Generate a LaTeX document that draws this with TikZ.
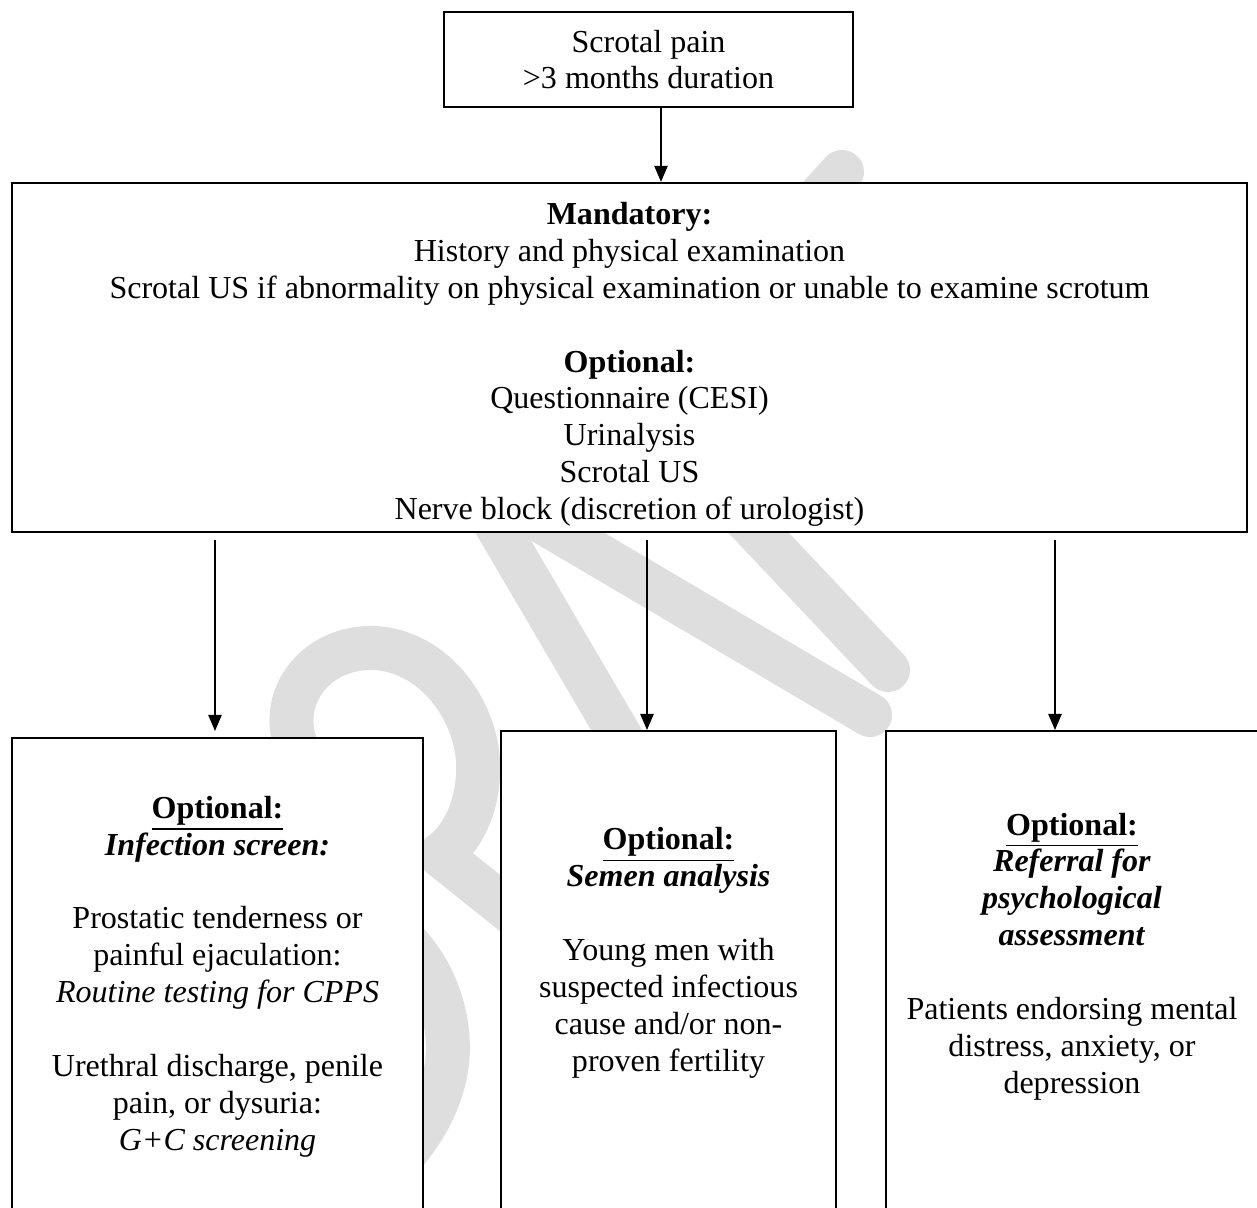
\documentclass[tikz,border=0pt]{standalone}
\usepackage{fontspec}
\setmainfont{Liberation Serif}
\usetikzlibrary{arrows.meta, positioning}
\newlength\px
\setlength\px{0.3746pt}
\definecolor{wmgray}{RGB}{222,222,222}

\begin{document}
\begin{tikzpicture}[
  x=0.3746pt, y=-0.3746pt,
  >={Triangle[length=6pt,width=5pt]},
  box/.style={rectangle, draw, fill=white, line width=0.9pt, inner sep=0pt, font=\fontsize{12}{13.8}\selectfont, align=center},
  txt/.style={inner sep=0pt, font=\fontsize{12}{13.8}\selectfont, align=center, anchor=base},
  arr/.style={->, line width=0.5pt},
  wm/.style={draw=wmgray, line width=44\px, line cap=round, line join=round},
]
  \useasboundingbox (0,0) rectangle (1257,1207);
  \clip (0,0) rectangle (1257,1207);

  % watermark behind the boxes
  \draw[wm] (842,172) -- (760,262);
  \draw[wm] (470,480) -- (640,770);
  \draw[wm] (480,485) -- (870,715);
  \draw[wm] (690,460) -- (888,670);
  \draw[wm] (330,790) .. controls (255,730) and (300,645) .. (375,648)
    .. controls (440,652) and (482,720) .. (478,775)
    .. controls (476,815) and (458,842) .. (440,855) -- (540,935);
  \draw[wm] (380,920) .. controls (440,960) and (455,1030) .. (445,1075)
    .. controls (435,1120) and (410,1150) .. (380,1180);

  \node[box, minimum width=409\px, minimum height=95\px] (pain) at (648.5,59.5)
    {Scrotal pain\\ >3 months duration};
  \node[box, minimum width=1235\px, minimum height=349\px] (workup) at (629.5,357.5)
    {\rule{0pt}{13.5pt}\textbf{Mandatory:}\\ History and physical examination\\
     Scrotal US if abnormality on physical examination or unable to examine scrotum\\[13.8pt]
     \textbf{Optional:}\\ Questionnaire (CESI)\\ Urinalysis\\ Scrotal US\\
     Nerve block (discretion of urologist)};

  \node[box, minimum width=411\px, minimum height=600\px, anchor=north] (infect) at (217.5,737) {};
  \node[box, minimum width=335\px, minimum height=600\px, anchor=north] (semen) at (668.5,730) {};
  \node[box, minimum width=376\px, minimum height=600\px, anchor=north] (psych) at (1074,730) {};

  % base = last line
  \node[txt] (infectTxt) at (217.5,1150)
    {\underline{\textbf{Optional:}}\\ \textbf{\textit{Infection screen:}}\\[13.8pt]
     Prostatic tenderness or\\ painful ejaculation:\\ \textit{Routine testing for CPPS}\\[13.8pt]
     Urethral discharge, penile\\ pain, or dysuria:\\ \textit{G+C screening}};
  \node[txt] (semenTxt) at (668.5,1071)
    {\underline{\textbf{Optional:}}\\ \textbf{\textit{Semen analysis}}\\[13.8pt]
     Young men with\\ suspected infectious\\ cause and/or non-\\ proven fertility};
  \node[txt] (psychTxt) at (1072,1093)
    {\underline{\textbf{Optional:}}\\ \textbf{\textit{Referral for}}\\ \textbf{\textit{psychological}}\\
     \textbf{\textit{assessment}}\\[13.8pt]
     Patients endorsing mental\\ distress, anxiety, or\\ depression};

  \coordinate (c0) at (661,0);
  \coordinate (c1) at (215,0);
  \coordinate (c2) at (647,0);
  \coordinate (c3) at (1055,0);

  \draw[arr] (pain.south -| c0) -- (workup.north -| c0);
  \draw[arr, shorten <=7\px, shorten >=6\px] (workup.south -| c1) -- (infect.north -| c1);
  \draw[arr, shorten <=7\px] (workup.south -| c2) -- (semen.north -| c2);
  \draw[arr, shorten <=7\px] (workup.south -| c3) -- (psych.north -| c3);
\end{tikzpicture}
\end{document}
